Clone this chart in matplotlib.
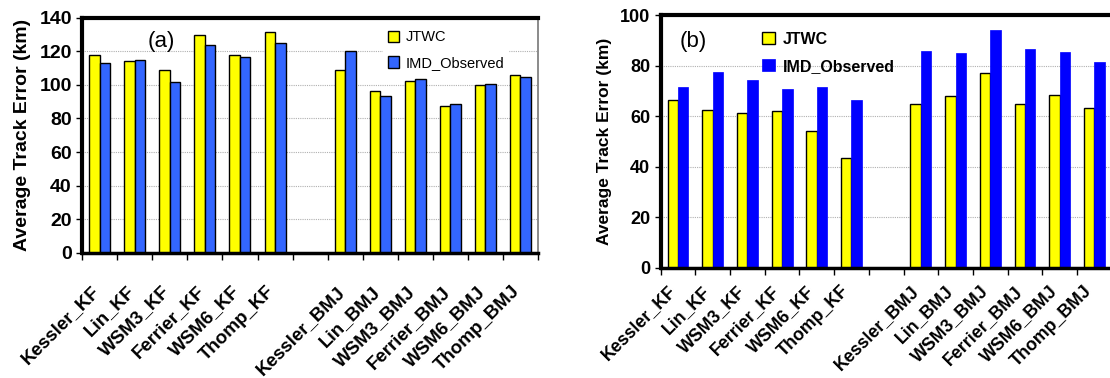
# track error bar charts for the KF and BMJ runs, two panels side by side

import numpy as np
import matplotlib
matplotlib.use("Agg")
import matplotlib.pyplot as plt
import matplotlib.transforms as mtransforms

plt.rcParams["font.family"] = ["Liberation Sans", "DejaVu Sans"]

# category names, the gap between the two groups is an empty slot
schemes = ["Kessler_KF", "Lin_KF", "WSM3_KF", "Ferrier_KF", "WSM6_KF", "Thomp_KF",
           "", "Kessler_BMJ", "Lin_BMJ", "WSM3_BMJ", "Ferrier_BMJ", "WSM6_BMJ", "Thomp_BMJ"]

# panel (a) values
jtwc_a = [118, 114, 109, 129.6, 118, 131.2, np.nan, 109, 96.6, 102.2, 87.2, 99.8, 106]
imd_a = [113.2, 114.8, 101.4, 123.5, 116.3, 125, np.nan, 120.2, 93.5, 103.7, 88.8, 100.6, 104.6]

# panel (b) values
jtwc_b = [66.3, 62.4, 61.2, 61.9, 54.1, 43.6, np.nan, 64.6, 67.9, 76.9, 64.6, 68.5, 63.1]
imd_b = [71.4, 77.5, 74.2, 70.9, 71.4, 66.5, np.nan, 85.9, 84.8, 94.2, 86.4, 85.3, 81.5]

x = np.arange(len(schemes))
w = 0.3

fig = plt.figure(figsize=(11.1, 3.78), dpi=100)
ax1 = fig.add_axes([0.0741, 0.3307, 0.4105, 0.623])
ax2 = fig.add_axes([0.5952, 0.2918, 0.4063, 0.6685])


def style_axes(ax, ymax, ystep, ysize, labsize, xsize, dx, dy):
    ax.set_xlim(-0.5, len(schemes) - 0.5)
    ax.set_ylim(0, ymax)
    ax.set_yticks(np.arange(0, ymax + 1, ystep))
    ax.yaxis.grid(True, color="#b0b0b0", linestyle=(0, (1, 1)), linewidth=0.8)
    ax.set_axisbelow(True)
    # ticks sit on the category borders, labels in the middle
    ax.set_xticks(x)
    ax.set_xticks(np.arange(-0.5, len(schemes), 1), minor=True)
    ax.set_xticklabels(schemes, rotation=45, ha="right", va="top", rotation_mode="anchor",
                       fontsize=xsize, fontweight="bold")
    ax.tick_params(axis="x", which="major", length=0, pad=0)
    ax.tick_params(axis="x", which="minor", length=5, width=1, direction="out")
    ax.tick_params(axis="y", length=4, width=1, direction="out", labelsize=ysize)
    for lab in ax.get_yticklabels():
        lab.set_fontweight("bold")
    # shift the slanted labels a bit left and down
    shift = mtransforms.ScaledTranslation(dx / 100, -dy / 100, fig.dpi_scale_trans)
    for lab in ax.get_xticklabels():
        lab.set_transform(lab.get_transform() + shift)
    ax.set_ylabel("Average Track Error (km)", fontsize=labsize, fontweight="bold", labelpad=6)
    ax.spines["top"].set_linewidth(3)
    ax.spines["left"].set_linewidth(3)
    ax.spines["bottom"].set_linewidth(2.5)
    ax.spines["right"].set_linewidth(1.2)
    ax.spines["right"].set_color("#777777")


# panel (a)
ax1.bar(x - w / 2, jtwc_a, w, color="#ffff00", edgecolor="black", linewidth=1, label="JTWC")
ax1.bar(x + w / 2, imd_a, w, color="#3366ff", edgecolor="black", linewidth=1, label="IMD_Observed")
style_axes(ax1, 140, 20, 14, 14, 13.5, -9, 30)
ax1.text(1.75, 125.6, "(a)", fontsize=16, ha="center", va="center")
leg1 = ax1.legend(loc="upper left", bbox_to_anchor=(0.645, 0.995), frameon=True, fontsize=10.5,
                  handlelength=0.8, handleheight=0.8, handletextpad=0.4, labelspacing=0.8,
                  borderpad=0.3)
leg1.get_frame().set_edgecolor("white")
leg1.get_frame().set_facecolor("white")
leg1.get_frame().set_alpha(1)

# panel (b)
ax2.bar(x - w / 2, jtwc_b, w, color="#ffff00", edgecolor="black", linewidth=1, label="JTWC")
ax2.bar(x + w / 2, imd_b, w, color="#0000ff", edgecolor="#0000ff", linewidth=0.5, label="IMD_Observed")
style_axes(ax2, 100, 20, 13, 12.5, 12.8, -11, 15)
ax2.text(0.43, 89.6, "(b)", fontsize=16, ha="center", va="center")
leg2 = ax2.legend(loc="upper left", bbox_to_anchor=(0.2, 0.978), frameon=False,
                  prop={"size": 11.5, "weight": "bold"},
                  handlelength=0.8, handleheight=0.8, handletextpad=0.5, labelspacing=0.75,
                  borderpad=0.2)

plt.savefig("out.png", dpi=100)
